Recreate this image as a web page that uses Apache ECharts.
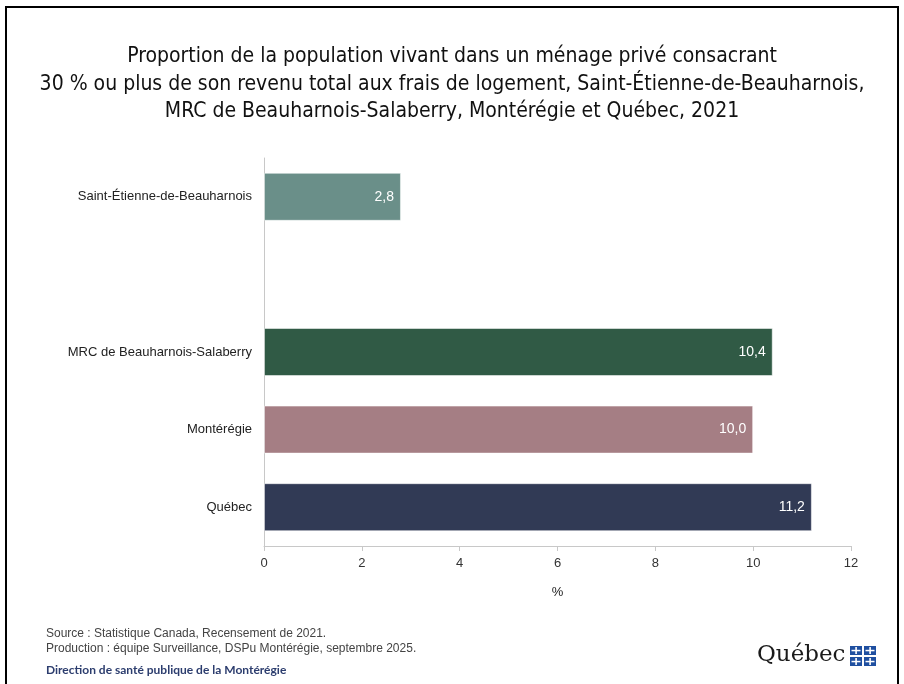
<!DOCTYPE html>
<html><head><meta charset="utf-8">
<script src="https://cdn.jsdelivr.net/npm/echarts@6/dist/echarts.min.js"></script>
<style>html,body{margin:0;padding:0;background:#fff}#c{width:904px;height:684px}</style>
</head><body><div id="c"></div>
<script>
const categories = ['Québec', 'Montérégie', 'MRC de Beauharnois-Salaberry', '', 'Saint-Étienne-de-Beauharnois'];
const values = [11.2, 10.0, 10.4, null, 2.8];
const barColors = ['#313a55', '#a57e84', '#305a45', '#ffffff', '#6a8f89'];
const xTicks = [0, 2, 4, 6, 8, 10, 12];
const titleLines = ['Proportion de la population vivant dans un ménage privé consacrant',
  '30 % ou plus de son revenu total aux frais de logement, Saint-Étienne-de-Beauharnois,',
  'MRC de Beauharnois-Salaberry, Montérégie et Québec, 2021'];
const sourceLines = ['Source : Statistique Canada, Recensement de 2021.',
  'Production : équipe Surveillance, DSPu Montérégie, septembre 2025.'];
const directionText = 'Direction de santé publique de la Montérégie';

const chart = echarts.init(document.getElementById('c'));
const fmt = v => v.toFixed(1).replace('.', ',');
function logoSquare(x, y) {
  return [
    {type:'rect', shape:{x:x, y:y, width:12, height:9}, style:{fill:'#1f4fa0'}},
    {type:'rect', shape:{x:x+5.3, y:y+1, width:1.6, height:7}, style:{fill:'#fff'}},
    {type:'rect', shape:{x:x+1.5, y:y+3.8, width:9, height:1.5}, style:{fill:'#fff'}}
  ];
}
chart.setOption({
  animation: false,
  title: {
    text: titleLines.join('\n'), left: 'center', top: 38,
    textStyle: {fontFamily: '"DejaVu Sans Condensed", "Roboto Condensed", Roboto', fontSize: 21, fontWeight: 'normal', color: '#111', lineHeight: 27.5}
  },
  grid: {left: 264, right: 53, top: 158, bottom: 138},
  xAxis: {
    type: 'value', min: 0, max: 12, interval: 2,
    name: '%', nameLocation: 'middle', nameGap: 40,
    nameTextStyle: {fontFamily: 'Liberation Sans', fontSize: 13, color: '#222'},
    axisLine: {show: true, lineStyle: {color: '#c8c8c8'}},
    axisTick: {show: true, length: 5, lineStyle: {color: '#c8c8c8'}},
    axisLabel: {fontFamily: 'Liberation Sans', fontSize: 13, color: '#333', margin: 11, formatter: v => String(v)},
    splitLine: {show: false}
  },
  yAxis: {
    type: 'category', data: categories,
    axisLine: {show: true, lineStyle: {color: '#c8c8c8'}},
    axisTick: {show: false},
    axisLabel: {fontFamily: 'Liberation Sans', fontSize: 13, color: '#222', margin: 12}
  },
  series: [{
    type: 'bar', barWidth: 48,
    data: values.map((v, i) => ({value: v, itemStyle: {color: barColors[i], borderColor: 'rgba(255,255,255,0.5)', borderWidth: 1}})),
    label: {show: true, position: 'insideRight', distance: 7, color: '#fff', fontFamily: 'Liberation Sans', fontSize: 14,
      formatter: p => p.value == null ? '' : fmt(p.value)}
  }],
  graphic: [
    {type:'rect', shape:{x:6, y:7, width:892, height:690}, style:{fill:'none', stroke:'#000', lineWidth:2}, silent:true},
    {type:'text', left: 46, top: 626, style:{text: sourceLines.join('\n'), font:'12px "Liberation Sans"', fill:'#444', lineHeight:15}},
    {type:'text', left: 46, top: 664, style:{text: directionText, font:'bold 12px Lato', fill:'#2c3d6e'}},
    {type:'text', left: 757, top: 644, style:{text: 'Québec', font:'23px "DejaVu Serif"', fill:'#1a1a1a'}},
    ...logoSquare(850, 646), ...logoSquare(864, 646), ...logoSquare(850, 657), ...logoSquare(864, 657)
  ]
});
</script></body></html>
